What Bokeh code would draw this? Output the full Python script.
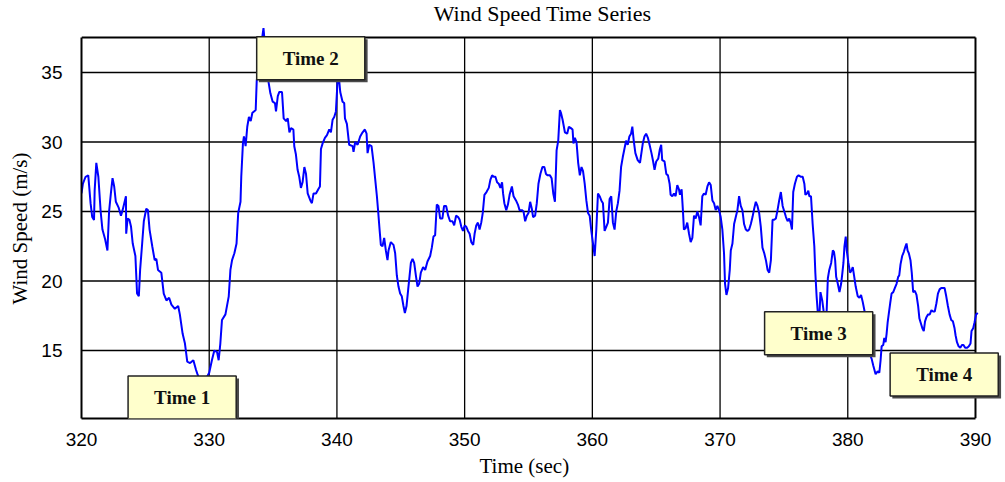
from bokeh.plotting import figure
from bokeh.models import Range1d, Label, FixedTicker, Title
from bokeh.embed import file_html
from bokeh.resources import INLINE

# ---- data ----
time_sec = [
    320.00, 320.11, 320.32, 320.53, 320.71, 320.84, 320.98, 321.03, 321.16, 321.32,
    321.50, 321.64, 321.85, 322.03, 322.16, 322.30, 322.43, 322.56, 322.69, 322.90,
    323.09, 323.22, 323.35, 323.48, 323.50, 323.61, 323.75, 323.88, 324.01, 324.22,
    324.35, 324.49, 324.59, 324.75, 324.88, 325.07, 325.20, 325.33, 325.54, 325.73,
    325.86, 325.99, 326.25, 326.44, 326.65, 326.86, 327.04, 327.31, 327.57, 327.70,
    327.92, 328.10, 328.28, 328.50, 328.76, 328.97, 329.08, 329.40, 329.70, 330.00,
    330.21, 330.40, 330.61, 330.74, 330.87, 331.00, 331.27, 331.53, 331.66, 331.79,
    331.97, 332.14, 332.27, 332.45, 332.51, 332.64, 332.72, 332.85, 332.98, 333.11,
    333.25, 333.38, 333.51, 333.64, 333.72, 334.00, 334.25, 334.45, 334.63, 334.79,
    334.97, 335.15, 335.23, 335.37, 335.49, 335.70, 335.83, 336.02, 336.15, 336.28,
    336.41, 336.59, 336.66, 336.79, 336.92, 337.05, 337.18, 337.31, 337.45, 337.58,
    337.71, 337.92, 338.04, 338.17, 338.36, 338.54, 338.67, 338.75, 338.88, 339.06,
    339.22, 339.40, 339.53, 339.66, 339.79, 339.92, 340.05, 340.12, 340.26, 340.44,
    340.57, 340.63, 340.78, 340.96, 341.23, 341.30, 341.43, 341.62, 341.82, 342.01,
    342.19, 342.32, 342.40, 342.53, 342.71, 342.87, 343.00, 343.13, 343.23, 343.34,
    343.44, 343.57, 343.70, 343.83, 343.96, 344.04, 344.22, 344.43, 344.56, 344.69,
    344.82, 344.95, 345.08, 345.21, 345.32, 345.45, 345.58, 345.68, 345.79, 345.92,
    346.05, 346.18, 346.31, 346.44, 346.57, 346.75, 346.91, 347.09, 347.30, 347.43,
    347.56, 347.69, 347.82, 347.95, 348.08, 348.26, 348.39, 348.55, 348.71, 348.86,
    349.05, 349.18, 349.33, 349.49, 349.61, 349.74, 349.87, 350.00, 350.13, 350.26,
    350.39, 350.52, 350.67, 350.78, 350.91, 351.04, 351.17, 351.30, 351.42, 351.55,
    351.71, 351.89, 352.02, 352.15, 352.28, 352.41, 352.54, 352.67, 352.80, 352.93,
    353.01, 353.11, 353.26, 353.39, 353.52, 353.70, 353.83, 354.02, 354.17, 354.30,
    354.48, 354.61, 354.74, 354.87, 355.00, 355.13, 355.26, 355.36, 355.52, 355.65,
    355.78, 355.93, 356.09, 356.24, 356.37, 356.50, 356.68, 356.81, 356.94, 357.07,
    357.20, 357.33, 357.46, 357.54, 357.67, 357.85, 358.03, 358.16, 358.32, 358.45,
    358.52, 358.63, 358.76, 358.89, 359.02, 359.15, 359.27, 359.40, 359.53, 359.66,
    359.79, 359.92, 360.05, 360.18, 360.31, 360.44, 360.57, 360.70, 360.83, 360.96,
    361.09, 361.22, 361.35, 361.48, 361.61, 361.74, 361.87, 362.00, 362.13, 362.25,
    362.38, 362.51, 362.64, 362.77, 362.90, 363.03, 363.13, 363.24, 363.37, 363.55,
    363.73, 363.95, 364.08, 364.21, 364.35, 364.48, 364.63, 364.76, 364.87, 365.00,
    365.16, 365.29, 365.39, 365.47, 365.65, 365.79, 365.92, 366.05, 366.13, 366.26,
    366.39, 366.52, 366.65, 366.78, 366.86, 366.99, 367.09, 367.17, 367.30, 367.43,
    367.57, 367.70, 367.83, 367.96, 368.09, 368.22, 368.35, 368.48, 368.61, 368.74,
    368.87, 369.01, 369.14, 369.27, 369.40, 369.53, 369.66, 369.79, 369.92, 370.05,
    370.18, 370.31, 370.39, 370.50, 370.63, 370.76, 370.84, 370.97, 371.10, 371.23,
    371.36, 371.49, 371.62, 371.75, 371.88, 372.02, 372.15, 372.28, 372.41, 372.54,
    372.67, 372.80, 372.93, 373.06, 373.19, 373.32, 373.46, 373.59, 373.72, 373.85,
    373.98, 374.11, 374.24, 374.37, 374.50, 374.63, 374.76, 374.90, 375.03, 375.16,
    375.29, 375.42, 375.55, 375.63, 375.73, 375.86, 376.02, 376.15, 376.34, 376.47,
    376.60, 376.68, 376.81, 376.91, 376.99, 377.12, 377.25, 377.38, 377.46, 377.56,
    377.64, 377.72, 377.80, 377.86, 378.00, 378.10, 378.20, 378.35, 378.44, 378.55,
    378.70, 378.83, 378.92, 379.01, 379.09, 379.22, 379.35, 379.48, 379.58, 379.66,
    379.74, 379.84, 379.92, 380.05, 380.18, 380.31, 380.39, 380.49, 380.62, 380.78,
    380.91, 381.04, 381.17, 381.30, 381.50, 381.74, 381.87, 382.00, 382.18, 382.34,
    382.47, 382.57, 382.65, 382.78, 382.86, 382.96, 383.04, 383.12, 383.22, 383.32,
    383.43, 383.56, 383.69, 383.82, 383.95, 384.03, 384.13, 384.26, 384.39, 384.52,
    384.60, 384.68, 384.78, 384.91, 385.01, 385.12, 385.25, 385.38, 385.51, 385.61,
    385.71, 385.84, 385.95, 386.05, 386.16, 386.29, 386.42, 386.55, 386.68, 386.81,
    386.94, 387.06, 387.19, 387.32, 387.45, 387.58, 387.71, 387.84, 387.97, 388.10,
    388.23, 388.36, 388.44, 388.55, 388.68, 388.81, 388.94, 389.06, 389.19, 389.35,
    389.48, 389.61, 389.69, 389.82, 389.92, 390.05, 390.18,
]

wind_speed = [
    26.3, 27.0, 27.5, 27.6, 25.6, 24.6, 24.4, 26.5, 28.5, 27.5,
    25.0, 23.7, 23.0, 22.2, 25.0, 26.3, 27.4, 26.8, 25.7, 25.3,
    24.7, 25.1, 25.6, 26.1, 23.4, 24.5, 24.4, 23.9, 22.7, 21.8,
    19.1, 18.9, 20.8, 22.7, 24.3, 25.2, 25.1, 23.7, 22.5, 21.5,
    21.6, 20.8, 20.6, 19.1, 18.6, 18.8, 18.3, 18.0, 18.2, 17.6,
    16.2, 15.5, 14.2, 14.1, 14.3, 13.6, 13.3, 12.6, 12.9, 13.4,
    14.3, 15.0, 14.9, 14.3, 15.5, 17.2, 17.6, 18.9, 20.8, 21.5,
    22.0, 22.7, 24.9, 25.7, 27.5, 29.9, 30.4, 29.7, 31.1, 31.8,
    31.5, 32.1, 32.2, 32.3, 34.4, 36.5, 38.2, 36.0, 34.4, 33.5,
    32.9, 32.8, 32.2, 33.3, 33.6, 33.6, 31.7, 31.5, 31.7, 30.7,
    31.0, 30.9, 29.7, 29.1, 28.0, 27.5, 26.7, 27.1, 28.2, 27.7,
    26.3, 25.8, 25.6, 26.3, 26.3, 26.6, 26.8, 29.5, 29.9, 30.3,
    30.5, 30.9, 30.7, 31.6, 31.8, 32.2, 34.4, 35.0, 33.6, 32.9,
    32.8, 31.7, 31.3, 29.8, 29.7, 29.3, 30.0, 29.8, 30.4, 30.7,
    30.9, 30.6, 29.2, 29.8, 29.7, 28.5, 27.3, 26.1, 25.0, 23.7,
    22.6, 22.5, 23.1, 22.2, 21.5, 22.2, 22.8, 22.6, 22.0, 20.4,
    19.6, 19.1, 18.9, 18.2, 17.7, 18.2, 19.4, 20.3, 21.3, 21.6,
    21.3, 20.4, 19.6, 19.8, 20.6, 21.0, 20.8, 21.4, 21.8, 22.4,
    23.2, 23.3, 25.5, 25.4, 24.5, 24.5, 25.4, 25.4, 24.7, 24.3,
    24.3, 24.0, 24.7, 24.6, 24.4, 23.9, 23.6, 24.0, 23.9, 23.6,
    23.4, 22.8, 22.6, 23.4, 24.0, 24.2, 23.7, 24.2, 24.9, 26.2,
    26.4, 26.7, 27.3, 27.6, 27.5, 27.5, 27.1, 27.0, 26.7, 27.1,
    26.3, 25.6, 25.1, 25.5, 26.2, 26.8, 26.1, 25.8, 25.5, 25.1,
    25.1, 25.0, 24.3, 24.7, 24.9, 25.7, 25.2, 24.6, 24.7, 25.6,
    27.0, 27.7, 28.2, 28.2, 27.7, 27.6, 27.6, 27.4, 26.3, 25.7,
    29.4, 30.1, 32.3, 32.1, 31.6, 30.7, 30.6, 31.1, 31.0, 30.9,
    29.9, 30.3, 30.0, 28.5, 27.6, 28.2, 27.9, 27.0, 25.8, 24.9,
    24.7, 23.6, 22.7, 21.8, 23.7, 26.3, 26.1, 25.8, 25.6, 23.6,
    23.9, 24.2, 25.9, 26.1, 24.2, 23.7, 25.0, 25.6, 26.5, 28.2,
    28.9, 29.5, 30.1, 29.8, 30.4, 30.6, 31.1, 30.1, 29.2, 28.7,
    28.5, 29.9, 30.4, 30.6, 30.3, 29.8, 29.2, 28.6, 28.0, 28.6,
    28.8, 29.5, 29.8, 28.7, 28.6, 27.7, 27.6, 27.0, 26.2, 26.1,
    26.3, 26.1, 26.9, 26.6, 26.2, 26.6, 25.1, 23.7, 23.8, 24.2,
    23.4, 22.8, 23.1, 24.7, 24.5, 25.0, 24.6, 24.0, 26.1, 26.3,
    26.2, 26.8, 27.1, 26.9, 25.8, 25.6, 25.1, 25.4, 25.1, 24.6,
    23.7, 22.0, 19.8, 19.0, 19.5, 20.8, 22.2, 22.7, 24.1, 24.6,
    25.1, 26.1, 25.4, 25.1, 24.1, 23.7, 23.6, 23.7, 24.1, 24.6,
    25.2, 25.7, 25.4, 24.9, 23.9, 22.4, 22.0, 21.5, 20.8, 20.6,
    21.5, 24.4, 24.4, 24.5, 25.1, 25.8, 26.4, 25.4, 25.0, 24.6,
    24.3, 24.5, 24.1, 23.7, 26.4, 27.0, 27.5, 27.6, 27.5, 27.5,
    27.0, 26.2, 26.3, 26.5, 26.1, 26.1, 24.1, 22.5, 20.6, 18.9,
    17.9, 16.5, 17.9, 19.2, 18.6, 17.9, 16.8, 17.9, 20.2, 20.8,
    21.3, 22.2, 22.1, 21.5, 20.3, 19.8, 19.2, 19.8, 20.6, 21.3,
    22.5, 23.2, 22.2, 21.3, 20.6, 20.8, 21.0, 20.4, 19.6, 18.9,
    18.8, 19.0, 18.5, 17.9, 16.3, 14.7, 14.4, 13.9, 13.3, 13.5,
    13.4, 14.3, 15.3, 15.4, 15.9, 15.6, 16.2, 17.0, 17.7, 18.4,
    19.1, 19.2, 19.5, 19.8, 20.3, 20.4, 21.2, 21.8, 22.1, 22.5,
    22.7, 22.2, 22.0, 21.5, 20.6, 19.2, 19.3, 19.0, 18.2, 17.3,
    17.0, 16.6, 16.4, 17.1, 17.4, 17.6, 17.6, 17.9, 17.8, 17.8,
    18.4, 19.1, 19.4, 19.5, 19.5, 19.5, 18.9, 18.2, 17.6, 17.2,
    17.1, 16.6, 16.1, 15.6, 15.3, 15.2, 15.4, 15.4, 15.2, 15.2,
    15.3, 15.5, 16.4, 16.6, 17.0, 17.6, 17.7,
]

x_ticks = [320, 330, 340, 350, 360, 370, 380, 390]
y_ticks = [15, 20, 25, 30, 35]
x_limits = (320, 390)
y_limits = (10.11, 37.52)

title_text = "Wind Speed Time Series"
x_label = "Time (sec)"
y_label = "Wind Speed (m/s)"
event_names = ["Time 1", "Time 2", "Time 3", "Time 4"]
# annotation anchors (box centres, data units)
event_anchor_x = [327.88, 337.95, 377.72, 387.55]
event_anchor_y = [11.62, 36.02, 16.24, 13.28]
title_anchor = (356.1, 39.24)

SERIF = "Liberation Serif"
SANS = "Liberation Sans"

# the frame is stretched to the top and right edges of the page so that
# the callout boxes and the trace can overhang the boxed plot area, as in
# the reference; the visible box is drawn from the limits above.
p = figure(
    width=1005, height=482, title=None,
    output_backend="svg", toolbar_location=None,
    x_range=Range1d(320, 392.35), y_range=Range1d(10.11, 40.18),
    min_border_left=81, min_border_right=0,
    min_border_top=0, min_border_bottom=64,
)
p.background_fill_color = "white"
p.border_fill_color = "white"
p.outline_line_color = None
p.xgrid.visible = False
p.ygrid.visible = False

# grid lines of the boxed area
p.segment(x0=[x_limits[0]] * len(y_ticks), x1=[x_limits[1]] * len(y_ticks),
          y0=y_ticks, y1=y_ticks, line_color="black", line_width=1.3)
p.segment(x0=x_ticks[1:-1], x1=x_ticks[1:-1],
          y0=[y_limits[0]] * (len(x_ticks) - 2), y1=[y_limits[1]] * (len(x_ticks) - 2),
          line_color="black", line_width=1.3)
# top and right edges of the box
p.segment(x0=[x_limits[0], x_limits[1]], x1=[x_limits[1], x_limits[1]],
          y0=[y_limits[1], y_limits[0]], y1=[y_limits[1], y_limits[1]],
          line_color="black", line_width=2)

p.line(time_sec, wind_speed, line_color="#0000FF", line_width=2)

p.xaxis.bounds = x_limits
p.yaxis.bounds = y_limits
for ax in (p.xaxis[0], p.yaxis[0]):
    ax.axis_line_color = "black"
    ax.axis_line_width = 2
    ax.major_tick_line_color = None
    ax.minor_tick_line_color = None
    ax.major_label_text_font = SANS
    ax.major_label_text_font_size = "19px"
    ax.major_label_text_color = "black"

p.xaxis.ticker = FixedTicker(ticks=x_ticks)
p.yaxis.ticker = FixedTicker(ticks=y_ticks)
p.xaxis.major_label_standoff = 8
p.yaxis.major_label_standoff = 13

# axis titles placed along the boxed area (not the stretched frame)
p.add_layout(Title(
    text=x_label, align="left", offset=398, standoff=6,
    text_font=SERIF, text_font_style="normal", text_font_size="21px",
    text_color="black",
), "below")
p.add_layout(Title(
    text=y_label, align="left", offset=114, standoff=11,
    vertical_align="middle",
    text_font=SERIF, text_font_style="normal", text_font_size="21px",
    text_color="black",
), "left")

p.add_layout(Label(
    x=title_anchor[0], y=title_anchor[1], text=title_text, anchor="center",
    text_font=SERIF, text_font_style="normal", text_font_size="22px",
    text_color="black",
))

for name, ex, ey in zip(event_names, event_anchor_x, event_anchor_y):
    shadow = Label(
        x=ex, y=ey, x_offset=2.5, y_offset=-2.5, text=" ", anchor="center",
        text_font=SERIF, text_font_style="bold", text_font_size="19px",
        text_color="#4a4a4a", padding=(52, 11),
        background_fill_color="#4a4a4a", border_line_color=None,
    )
    box = Label(
        x=ex, y=ey, text=name, anchor="center",
        text_font=SERIF, text_font_style="bold", text_font_size="19px",
        text_color="#111111", padding=(26, 11),
        background_fill_color="#FFFFCC", border_line_color="#222222",
        border_line_width=1.5,
    )
    p.add_layout(shadow)
    p.add_layout(box)

open("out.html", "w").write(file_html(p, INLINE))
